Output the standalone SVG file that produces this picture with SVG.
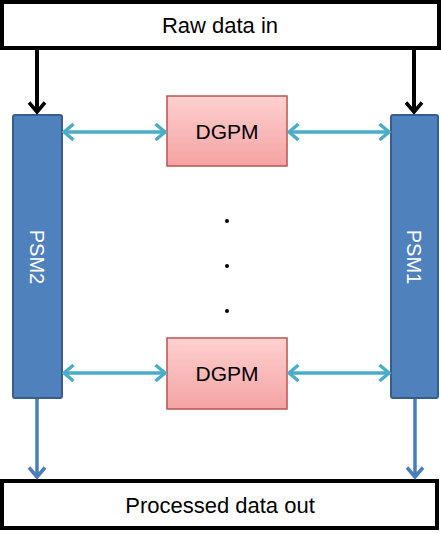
<svg xmlns="http://www.w3.org/2000/svg" width="441" height="534" viewBox="0 0 441 534">
<style>
.io{fill:#fff;stroke:#000;stroke-width:4}
.psm{fill:#4f81bd;stroke:#385d8a;stroke-width:2}
.dg{fill:url(#pink);stroke:#b85450;stroke-width:1.5}
.t{font-family:"Liberation Sans",Arial,sans-serif;font-size:22px;fill:#000;text-anchor:middle;dominant-baseline:central}
.tw{font-family:"Liberation Sans",Arial,sans-serif;font-size:20px;fill:#fff;text-anchor:middle;dominant-baseline:central}
.blk{stroke:#000;stroke-width:4;fill:none}
.cy{stroke:#4bacc6;stroke-width:3.5;fill:none}
.bl{stroke:#4a7ebb;stroke-width:3.5;fill:none}
</style>
<defs>
<linearGradient id="pink" x1="0" y1="0" x2="0" y2="1">
<stop offset="0" stop-color="#ffd0d0"/>
<stop offset="1" stop-color="#f4a3a3"/>
</linearGradient>
<marker id="ab" viewBox="0 0 14 20" refX="11.5" refY="10" markerWidth="14" markerHeight="20" markerUnits="userSpaceOnUse" orient="auto">
<path d="M2,2 L11.5,10 L2,18" fill="none" stroke="#000" stroke-width="3.5"/>
</marker>
<marker id="ac" viewBox="0 0 14 20" refX="11.5" refY="10" markerWidth="14" markerHeight="20" markerUnits="userSpaceOnUse" orient="auto-start-reverse">
<path d="M2,2 L11.5,10 L2,18" fill="none" stroke="#4bacc6" stroke-width="3.5"/>
</marker>
<marker id="abl" viewBox="0 0 14 20" refX="11.5" refY="10" markerWidth="14" markerHeight="20" markerUnits="userSpaceOnUse" orient="auto">
<path d="M2,2 L11.5,10 L2,18" fill="none" stroke="#4a7ebb" stroke-width="3.5"/>
</marker>
</defs>
<g id="raw-in"><rect class="io" x="2" y="2" width="437" height="46"/><text class="t" x="220" y="25">Raw data in</text></g>
<g id="processed-out"><rect class="io" x="2" y="481" width="435" height="47"/><text class="t" x="220" y="505">Processed data out</text></g>
<g id="psm2"><rect class="psm" x="13" y="115" width="49" height="283" rx="2"/><text class="tw" transform="translate(37,257) rotate(90)">PSM2</text></g>
<g id="psm1"><rect class="psm" x="391" y="115" width="47" height="283" rx="2"/><text class="tw" transform="translate(414,257) rotate(90)">PSM1</text></g>
<g id="dgpm1"><rect class="dg" x="167" y="96" width="120" height="70"/><text class="t" x="227" y="131" style="font-size:21px">DGPM</text></g>
<g id="dgpm2"><rect class="dg" x="167" y="338" width="120" height="71"/><text class="t" x="227" y="373" style="font-size:21px">DGPM</text></g>
<g id="ellipsis" fill="#000"><circle cx="227" cy="221" r="2"/><circle cx="227" cy="266" r="2"/><circle cx="227" cy="311" r="2"/></g>
<g id="connectors">
<line class="blk" x1="37" y1="48" x2="37" y2="112" marker-end="url(#ab)"/>
<line class="blk" x1="414" y1="48" x2="414" y2="112" marker-end="url(#ab)"/>
<line class="cy" x1="64" y1="132" x2="165" y2="132" marker-start="url(#ac)" marker-end="url(#ac)"/>
<line class="cy" x1="289" y1="132" x2="389" y2="132" marker-start="url(#ac)" marker-end="url(#ac)"/>
<line class="cy" x1="64" y1="373" x2="165" y2="373" marker-start="url(#ac)" marker-end="url(#ac)"/>
<line class="cy" x1="289" y1="373" x2="389" y2="373" marker-start="url(#ac)" marker-end="url(#ac)"/>
<line class="bl" x1="37" y1="399" x2="37" y2="477" marker-end="url(#abl)"/>
<line class="bl" x1="415" y1="399" x2="415" y2="477" marker-end="url(#abl)"/>
</g>
</svg>
